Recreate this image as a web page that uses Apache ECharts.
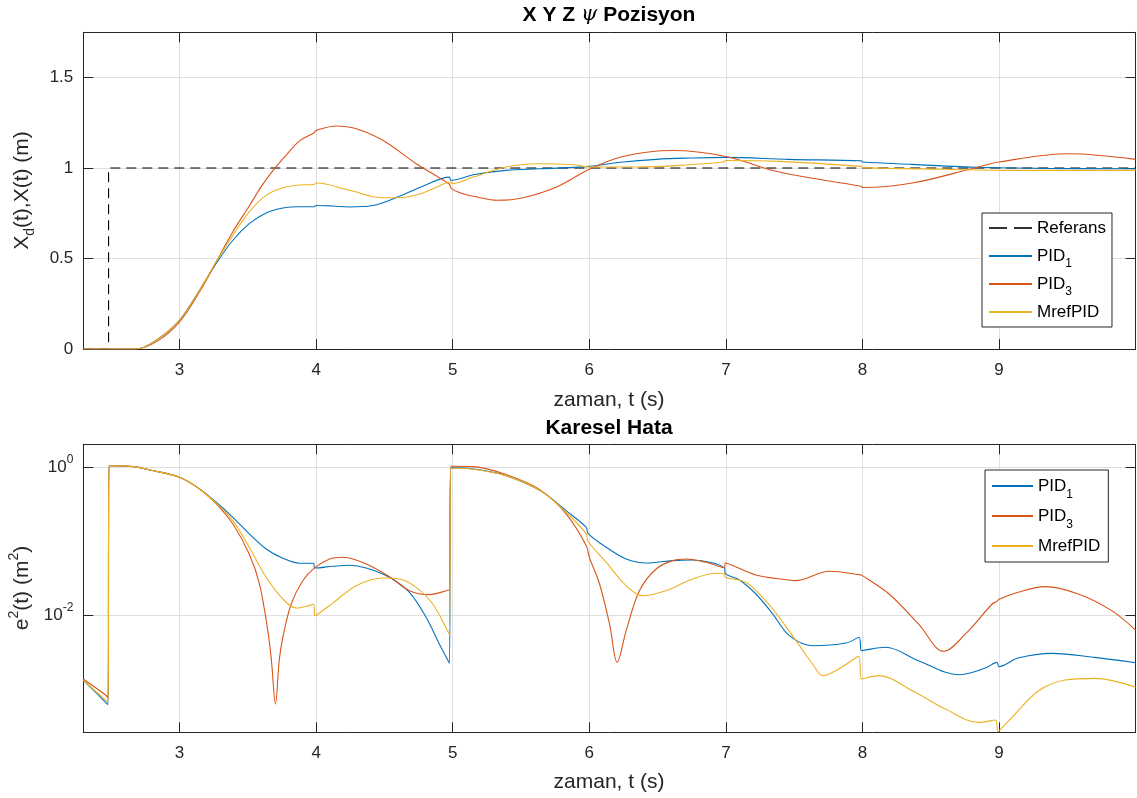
<!DOCTYPE html>
<html><head><meta charset="utf-8">
<script src="https://cdn.jsdelivr.net/npm/echarts@6/dist/echarts.min.js"></script>
<style>html,body{margin:0;padding:0;background:#fff}#c{width:1137px;height:798px}</style>
</head><body><div id="c"></div>
<script>
// ---------- axis ranges / ticks ----------
const tMin = 2.295, tMax = 10;
const tTicks = [3, 4, 5, 6, 7, 8, 9];
const posMin = 0, posMax = 1.75;
const posTicks = [0, 0.5, 1, 1.5];
const errMinExp = -3.58, errMaxExp = 0.31;   // log10 range of bottom axis
const errTickExps = [-2, 0];

// ---------- top plot: position ----------
const refT = [2.295, 2.48, 2.48, 10];
const refX = [0, 0, 1, 1];

const pid1TopT = [2.295,2.68,2.83,3.0,3.146,3.268,3.39,3.51,3.634,3.756,3.878,3.985,4.0,4.12,4.244,4.415,4.61,4.78,4.976,4.985,5.07,5.15,5.39,5.64,6.0,6.245,6.49,6.73,6.99,7.46,7.99,8.0,8.365,8.85,9.34,10];
const pid1TopX = [0,0,0.05,0.16,0.325,0.473,0.601,0.693,0.752,0.779,0.786,0.786,0.793,0.79,0.785,0.793,0.844,0.899,0.95,0.932,0.945,0.963,0.987,0.996,1.009,1.033,1.048,1.055,1.059,1.048,1.04,1.033,1.02,1.004,0.998,0.996];

const pid3TopT = [2.295,2.68,2.84,3.0,3.146,3.268,3.39,3.51,3.6,3.695,3.756,3.878,3.985,4.0,4.146,4.293,4.488,4.732,4.976,4.99,5.07,5.15,5.33,5.516,5.76,6.0,6.245,6.61,7.0,7.39,7.99,8.0,8.365,8.8,9.0,9.51,10];
const pid3TopX = [0,0,0.045,0.15,0.316,0.482,0.648,0.79,0.9,0.997,1.05,1.15,1.195,1.208,1.232,1.217,1.153,1.024,0.91,0.886,0.859,0.844,0.822,0.836,0.895,0.993,1.064,1.097,1.064,0.978,0.899,0.892,0.917,0.996,1.033,1.079,1.048];

const mrefTopT = [2.295,2.68,2.83,3.0,3.146,3.268,3.39,3.51,3.634,3.756,3.878,3.985,4.0,4.244,4.488,4.61,4.78,4.91,4.98,5.0,5.15,5.39,5.64,5.88,6.0,6.37,6.73,6.98,7.0,7.39,7.99,8.0,8.61,9.1,10];
const mrefTopX = [0,0,0.05,0.16,0.325,0.482,0.628,0.758,0.849,0.891,0.906,0.909,0.917,0.877,0.836,0.836,0.862,0.904,0.923,0.914,0.95,1.006,1.024,1.018,1.006,1.006,1.018,1.033,1.042,1.037,1.009,1.002,0.993,0.987,0.987];

// ---------- bottom plot: squared error, stored as log10(e^2) ----------
const pid1ErrT = [2.295,2.46,2.476,2.483,2.5,2.66,2.78,3.0,3.146,3.268,3.39,3.51,3.634,3.756,3.878,3.98,3.99,4.12,4.244,4.366,4.536,4.683,4.805,4.902,4.965,4.976,4.985,5.0,5.15,5.39,5.64,5.83,5.978,5.99,6.124,6.27,6.416,6.61,6.757,6.99,6.995,7.1,7.22,7.34,7.465,7.635,7.88,7.976,7.99,8.0,8.17,8.41,8.706,8.9,8.985,9.0,9.14,9.387,9.7,10];
const pid1ErrLog = [-2.874,-3.178,-3.207,0.02,0.02,0.009,-0.036,-0.135,-0.293,-0.473,-0.676,-0.9,-1.104,-1.23,-1.297,-1.297,-1.36,-1.338,-1.324,-1.36,-1.486,-1.689,-2.027,-2.387,-2.61,-2.649,-0.009,-0.009,-0.023,-0.113,-0.315,-0.586,-0.811,-0.892,-1.081,-1.239,-1.293,-1.261,-1.252,-1.36,-1.432,-1.523,-1.712,-1.973,-2.275,-2.41,-2.374,-2.297,-2.477,-2.475,-2.432,-2.613,-2.802,-2.712,-2.635,-2.694,-2.577,-2.514,-2.568,-2.64];

const pid3ErrT = [2.295,2.46,2.476,2.483,2.5,2.66,2.78,3.0,3.146,3.268,3.39,3.51,3.585,3.646,3.672,3.702,3.73,3.756,3.817,3.902,3.988,4.098,4.195,4.366,4.536,4.683,4.83,4.965,4.976,4.985,5.0,5.15,5.39,5.64,5.83,5.978,6.0,6.075,6.148,6.204,6.27,6.367,6.489,6.61,6.708,6.854,6.99,6.995,7.22,7.46,7.51,7.757,7.976,8.0,8.195,8.41,8.596,8.754,8.95,8.985,9.0,9.14,9.338,9.58,9.825,10];
const pid3ErrLog = [-2.86,-3.08,-3.117,0.02,0.02,0.009,-0.036,-0.135,-0.293,-0.495,-0.766,-1.171,-1.577,-2.207,-2.6,-3.198,-2.6,-2.297,-1.847,-1.532,-1.36,-1.239,-1.216,-1.306,-1.477,-1.667,-1.72,-1.662,-1.658,0.014,0.014,0.009,-0.099,-0.306,-0.631,-1.059,-1.216,-1.577,-2.117,-2.635,-2.207,-1.667,-1.374,-1.261,-1.239,-1.284,-1.36,-1.293,-1.455,-1.523,-1.532,-1.405,-1.45,-1.464,-1.712,-2.117,-2.486,-2.252,-1.847,-1.811,-1.784,-1.689,-1.613,-1.712,-1.937,-2.2];

const mrefErrT = [2.295,2.46,2.476,2.483,2.5,2.66,2.78,3.0,3.146,3.268,3.39,3.51,3.634,3.756,3.854,3.95,3.98,3.99,4.0,4.12,4.293,4.488,4.61,4.732,4.854,4.965,4.976,4.985,5.0,5.15,5.39,5.64,5.83,5.978,5.99,6.124,6.27,6.39,6.56,6.757,6.927,6.99,6.995,7.146,7.29,7.39,7.513,7.635,7.71,7.805,7.965,7.976,7.99,8.0,8.12,8.365,8.608,8.85,8.976,8.99,9.0,9.095,9.29,9.484,9.7,10];
const mrefErrLog = [-2.874,-3.15,-3.176,0.02,0.02,0.009,-0.036,-0.135,-0.293,-0.486,-0.72,-1.081,-1.486,-1.779,-1.901,-1.869,-1.847,-2.005,-2.0,-1.838,-1.599,-1.495,-1.509,-1.622,-1.847,-2.22,-2.261,-0.014,-0.014,-0.027,-0.113,-0.315,-0.608,-0.9,-1.0,-1.284,-1.6,-1.734,-1.667,-1.509,-1.432,-1.441,-1.486,-1.554,-1.802,-2.027,-2.342,-2.658,-2.815,-2.748,-2.56,-2.554,-2.86,-2.855,-2.815,-3.018,-3.266,-3.446,-3.414,-3.568,-3.56,-3.378,-3.018,-2.874,-2.851,-2.97];

// ---------- legend ----------
const topLegendNames = ['Referans', 'PID1', 'PID3', 'MrefPID'];
const botLegendNames = ['PID1', 'PID3', 'MrefPID'];

// ---------- build ----------
const C_BLUE = '#0072BD', C_RED = '#D95319', C_YEL = '#EDB120', C_AX = '#262626';
const FONT = "'Liberation Sans', Arial, Helvetica, sans-serif";
const zip = (t, v) => t.map((x, i) => [x, v[i]]);
const zipPow = (t, v) => t.map((x, i) => [x, Math.pow(10, v[i])]);

const G0 = { left: 83.3, top: 32.3, width: 1052.3, height: 316.7, containLabel: false, outerBoundsMode: 'none' };
const G1 = { left: 83.3, top: 444.3, width: 1052.3, height: 288, containLabel: false, outerBoundsMode: 'none' };

const near = (list, v) => list.some(p => Math.abs(p - v) < 1e-6);
const tickStyle = { show: true, inside: true, length: 10, lineStyle: { color: C_AX, width: 1 } };
const lineAx = { show: true, onZero: false, lineStyle: { color: C_AX, width: 1 } };
const split = { show: true, lineStyle: { color: '#dfdfdf', width: 1 } };
const labelBase = { color: C_AX, fontSize: 17, fontFamily: FONT };

function xAx(grid, pos, showLabel) {
  return {
    type: 'value', gridIndex: grid, position: pos, min: tMin, max: tMax,
    splitNumber: 8,
    axisLine: lineAx, axisTick: tickStyle,
    splitLine: showLabel ? split : { show: false },
    axisLabel: showLabel ? Object.assign({ margin: 13, formatter: v => near(tTicks, v) ? String(Math.round(v)) : '' }, labelBase) : { show: false }
  };
}
function yPos(pos, showLabel) {
  return {
    type: 'value', gridIndex: 0, position: pos, min: posMin, max: posMax, interval: 0.5,
    axisLine: lineAx, axisTick: tickStyle,
    splitLine: showLabel ? split : { show: false },
    axisLabel: showLabel ? Object.assign({ margin: 10, formatter: v => near(posTicks, v) ? String(v) : '' }, labelBase) : { show: false }
  };
}
function yErr(pos, showLabel) {
  return {
    type: 'log', logBase: 100, gridIndex: 1, position: pos,
    min: Math.pow(10, errMinExp), max: Math.pow(10, errMaxExp),
    axisLine: lineAx, axisTick: tickStyle, minorTick: { show: false },
    splitLine: showLabel ? split : { show: false },
    axisLabel: showLabel ? Object.assign({
      margin: 10, lineHeight: 28,
      formatter: v => {
        const e = Math.log10(v); const r = Math.round(e);
        return (Math.abs(e - r) < 1e-6 && errTickExps.indexOf(r) >= 0) ? '10{sup|' + r + '}' : '';
      },
      rich: { sup: { fontSize: 12, lineHeight: 12, verticalAlign: 'top', color: C_AX, fontFamily: FONT } }
    }, labelBase) : { show: false }
  };
}

function lineSeries(name, data, color, xi, yi, extra) {
  return Object.assign({
    type: 'line', name, data, xAxisIndex: xi, yAxisIndex: yi,
    showSymbol: false, symbol: 'none', smooth: 0.35,
    lineStyle: { color, width: 1.1 }, itemStyle: { color }, animation: false, z: 3
  }, extra || {});
}

const legendFmt = n => n === 'PID1' ? 'PID{sub|1}' : (n === 'PID3' ? 'PID{sub|3}' : n);
function legend(names, left, top, itemW, lh, pad) {
  return {
    data: names.map(n => n === 'Referans' ? { name: n, lineStyle: { type: [18, 7], color: '#333' } } : n),
    orient: 'vertical', left, top, itemWidth: itemW, itemHeight: 14, itemGap: 0,
    padding: pad, borderColor: C_AX, borderWidth: 1, backgroundColor: '#fff', selectedMode: false,
    itemStyle: { opacity: 0 },
    formatter: legendFmt,
    textStyle: { fontSize: 17, lineHeight: lh, color: '#000', fontFamily: FONT,
      rich: { sub: { fontSize: 12, lineHeight: 12, verticalAlign: 'bottom', color: '#000', fontFamily: FONT } } }
  };
}

const series = [
  lineSeries('Referans', zip(refT, refX), '#000', 0, 0, { smooth: false, lineStyle: { color: '#000', width: 1.1, type: [10, 6] } }),
  lineSeries('PID1', zip(pid1TopT, pid1TopX), C_BLUE, 0, 0),
  lineSeries('PID3', zip(pid3TopT, pid3TopX), C_RED, 0, 0),
  lineSeries('MrefPID', zip(mrefTopT, mrefTopX), C_YEL, 0, 0),
  lineSeries('PID1', zipPow(pid1ErrT, pid1ErrLog), C_BLUE, 2, 2),
  lineSeries('PID3', zipPow(pid3ErrT, pid3ErrLog), C_RED, 2, 2),
  lineSeries('MrefPID', zipPow(mrefErrT, mrefErrLog), C_YEL, 2, 2)
];

const txt = (x, y, text, size, weight, rot, rich, color) => ({
  type: 'text', x, y, rotation: rot || 0, silent: true,
  style: { text, fontSize: size, fontWeight: weight || 'normal', fontFamily: FONT, fill: color || C_AX,
    align: 'center', verticalAlign: 'middle', rich: rich || undefined }
});

const option = {
  backgroundColor: '#fff',
  animation: false,
  grid: [G0, G1],
  xAxis: [xAx(0, 'bottom', true), xAx(0, 'top', false), xAx(1, 'bottom', true), xAx(1, 'top', false)],
  yAxis: [yPos('left', true), yPos('right', false), yErr('left', true), yErr('right', false)],
  legend: [
    legend(topLegendNames, 982, 213, 43, 28, [1, 6, 1, 6]),
    legend(botLegendNames, 985, 470, 41, 30, [1, 8, 1, 6])
  ],
  series,
  graphic: [
    txt(609, 15, 'X Y Z {psi|ψ} Pozisyon', 21, 'bold', 0,
      { psi: { fontSize: 21, fontStyle: 'italic', fontWeight: 'normal', fontFamily: 'DejaVu Serif', fill: '#000', color: '#000' } }, '#000'),
    txt(609, 428, 'Karesel Hata', 21, 'bold', 0, null, '#000'),
    txt(609, 400, 'zaman, t (s)', 21),
    txt(609, 782, 'zaman, t (s)', 21),
    txt(22, 190.5, '{a|X}{s|d}{a|(t),X(t) (m)}', 21, 'normal', Math.PI / 2,
      { a: { fontSize: 21, lineHeight: 30, fontFamily: FONT, color: C_AX },
        s: { fontSize: 14, lineHeight: 14, verticalAlign: 'bottom', fontFamily: FONT, color: C_AX } }),
    txt(22, 588, '{a|e}{u|2}{a|(t) (m}{u|2}{a|)}', 21, 'normal', Math.PI / 2,
      { a: { fontSize: 21, lineHeight: 30, fontFamily: FONT, color: C_AX },
        u: { fontSize: 14, lineHeight: 14, verticalAlign: 'top', fontFamily: FONT, color: C_AX } })
  ]
};

const chart = echarts.init(document.getElementById('c'), null, { renderer: 'canvas' });
chart.setOption(option);
</script>
</body></html>
